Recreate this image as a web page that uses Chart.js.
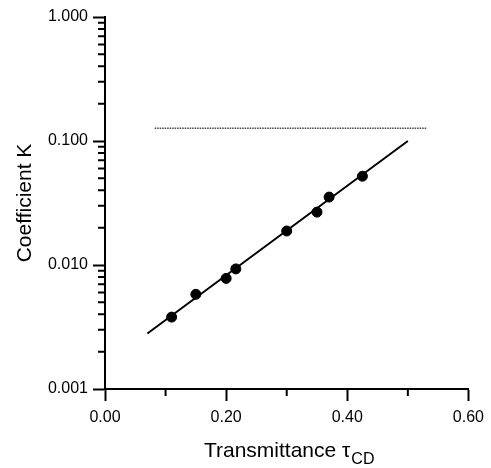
<!DOCTYPE html>
<html>
<head>
<meta charset="utf-8">
<script src="https://cdn.jsdelivr.net/npm/chart.js@4/dist/chart.umd.min.js"></script>
<style>
  body { margin: 0; background: #fff; }
  canvas { display: block; }
</style>
</head>
<body>
<canvas id="chart" width="491" height="468"></canvas>
<script>
// measured points: transmittance vs coefficient K
var tau = [0.11, 0.15, 0.20, 0.216, 0.30, 0.35, 0.37, 0.425];
var coefK = [0.0038, 0.0058, 0.0078, 0.0093, 0.0188, 0.0267, 0.0353, 0.052];

// fitted straight line (log scale) and the dotted reference level
var fitTau = [0.07, 0.50];
var fitK = [0.0028, 0.100];
var refTau = [0.082, 0.532];
var refK = [0.127, 0.127];

// axis ticks
var xTicks = [0, 0.1, 0.2, 0.3, 0.4, 0.5, 0.6];
var xLabeled = [0, 0.2, 0.4, 0.6];
var yDecades = [0.001, 0.01, 0.1, 1];

function toXY(xs, ys) {
    var out = [];
    for (var i = 0; i < xs.length; i++) {
        out.push({ x: xs[i], y: ys[i] });
    }
    return out;
}

function isLabeledX(v) {
    for (var i = 0; i < xLabeled.length; i++) {
        if (Math.abs(v - xLabeled[i]) < 1e-9) return true;
    }
    return false;
}

function yTickList() {
    var list = [];
    for (var d = 0; d < yDecades.length; d++) {
        list.push({ value: yDecades[d], major: true });
        if (d == yDecades.length - 1) break;
        for (var m = 2; m <= 9; m++) {
            list.push({ value: +(yDecades[d] * m).toPrecision(6), major: false });
        }
    }
    return list;
}

var FONT = "'Liberation Sans', Arial, sans-serif";

// ─── MINOR TICKS + X TITLE WITH SUBSCRIPT ───────────────────────────────────────
var decorPlugin = {
    id: 'decor',
    afterDraw: function (chart) {
        var ctx = chart.ctx;
        var area = chart.chartArea;
        var xs = chart.scales.x;
        var ys = chart.scales.y;
        ctx.save();
        ctx.strokeStyle = '#000';
        ctx.lineWidth = 2;
        ctx.beginPath();
        xs.ticks.forEach(function (t) {
            if (t.major) return;
            var px = xs.getPixelForValue(t.value);
            ctx.moveTo(px, area.bottom);
            ctx.lineTo(px, area.bottom + 7);
        });
        ys.ticks.forEach(function (t) {
            if (t.major) return;
            var py = ys.getPixelForValue(t.value);
            ctx.moveTo(area.left - 7, py);
            ctx.lineTo(area.left, py);
        });
        ctx.stroke();

        // x title: "Transmittance τ" with subscript "CD"
        var main = 'Transmittance \u03c4';
        var sub = 'CD';
        ctx.fillStyle = '#000';
        ctx.textBaseline = 'alphabetic';
        ctx.textAlign = 'left';
        ctx.font = '21px ' + FONT;
        var w1 = ctx.measureText(main).width;
        ctx.font = '16px ' + FONT;
        var w2 = ctx.measureText(sub).width;
        var cx = (area.left + area.right) / 2 + 2;
        var x0 = cx - (w1 + w2) / 2;
        ctx.font = '21px ' + FONT;
        ctx.fillText(main, x0, 456.5);
        ctx.font = '16px ' + FONT;
        ctx.fillText(sub, x0 + w1 + 1, 464);
        ctx.restore();
    }
};

var ctx = document.getElementById('chart').getContext('2d');
var chart = new Chart(ctx, {
    type: 'scatter',
    data: {
        datasets: [
            {
                label: 'reference',
                data: toXY(refTau, refK),
                showLine: true,
                borderColor: '#444',
                borderWidth: 1.5,
                borderDash: [1.5, 1],
                pointRadius: 0
            },
            {
                label: 'fit',
                data: toXY(fitTau, fitK),
                showLine: true,
                borderColor: '#000',
                borderWidth: 2,
                pointRadius: 0
            },
            {
                label: 'measured',
                data: toXY(tau, coefK),
                showLine: false,
                backgroundColor: '#000',
                borderColor: '#000',
                pointRadius: 5,
                pointHoverRadius: 5
            }
        ]
    },
    options: {
        responsive: false,
        animation: false,
        events: [],
        layout: { padding: { left: 0, right: 20, top: 17, bottom: 0 } },
        plugins: {
            legend: { display: false },
            tooltip: { enabled: false }
        },
        scales: {
            x: {
                type: 'linear',
                position: 'bottom',
                min: 0,
                max: 0.6,
                afterBuildTicks: function (scale) {
                    scale.ticks = xTicks.map(function (v) {
                        return { value: v, major: isLabeledX(v) };
                    });
                },
                afterFit: function (scale) { scale.height = 79; },
                ticks: {
                    autoSkip: false,
                    maxRotation: 0,
                    padding: 7,
                    color: '#000',
                    font: { family: FONT, size: 16 },
                    callback: function (v) {
                        return isLabeledX(v) ? v.toFixed(2) : '';
                    }
                },
                grid: {
                    display: true,
                    drawOnChartArea: false,
                    drawTicks: true,
                    tickLength: 12,
                    tickWidth: 2,
                    tickColor: function (c) {
                        return c.tick && c.tick.major ? '#000' : 'rgba(0,0,0,0)';
                    }
                },
                border: { display: true, color: '#000', width: 2 },
                title: { display: false }
            },
            y: {
                type: 'logarithmic',
                position: 'left',
                min: 0.001,
                max: 1,
                afterBuildTicks: function (scale) { scale.ticks = yTickList(); },
                afterFit: function (scale) { scale.width = 105; },
                ticks: {
                    autoSkip: false,
                    padding: 5,
                    color: '#000',
                    font: { family: FONT, size: 16 },
                    callback: function (v) {
                        for (var i = 0; i < yDecades.length; i++) {
                            if (Math.abs(v - yDecades[i]) < 1e-12) return v.toFixed(3);
                        }
                        return '';
                    }
                },
                grid: {
                    display: true,
                    drawOnChartArea: false,
                    drawTicks: true,
                    tickLength: 12,
                    tickWidth: 2,
                    tickColor: function (c) {
                        return c.tick && c.tick.major ? '#000' : 'rgba(0,0,0,0)';
                    }
                },
                border: { display: true, color: '#000', width: 2 },
                title: {
                    display: true,
                    text: 'Coefficient K',
                    color: '#000',
                    font: { family: FONT, size: 21 },
                    padding: { top: 13, bottom: 0 }
                }
            }
        }
    },
    plugins: [decorPlugin]
});
</script>
</body>
</html>
